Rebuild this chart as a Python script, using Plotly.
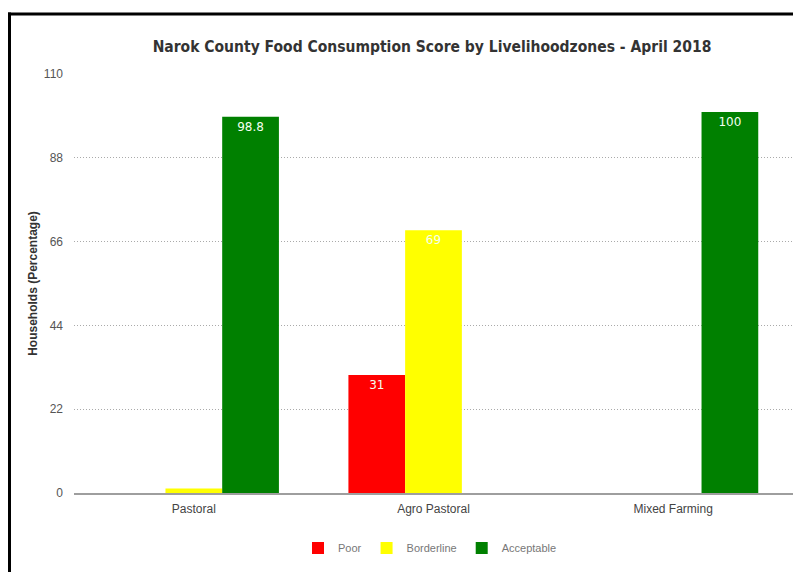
import plotly.graph_objects as go

categories = ["Pastoral", "Agro Pastoral", "Mixed Farming"]
poor = [0, 31, 0]
borderline = [1.2, 69, 0]
acceptable = [98.8, 0, 100]
series_names = ["Poor", "Borderline", "Acceptable"]
series_colors = ["#ff0000", "#ffff00", "#008000"]
tick_vals = [0, 22, 44, 66, 88, 110]

def labels(vals):
    return [("%g" % v) if v >= 5 else "" for v in vals]

fig = go.Figure()
for name, vals, col in zip(series_names, [poor, borderline, acceptable], series_colors):
    fig.add_trace(go.Bar(
        x=categories, y=vals, name=name, marker=dict(color=col, line=dict(width=0)),
        text=labels(vals), textposition="inside", insidetextanchor="end",
        textfont=dict(color="#f4fff0", size=12, family="DejaVu Sans"),
        textangle=0, cliponaxis=False,
    ))

OFF = 8  # page body margin offset
W, H = 801 - 2 * OFF, 580 - 2 * OFF  # keep the page free of scrollbars
PL, PR, PT, PB = 74, 793, 74, 493  # plot area in page pixels
L, T = PL - OFF, PT - OFF
pw, ph = PR - PL, PB - PT
R, B = W - L - pw, H - T - ph

def px_x(p):
    return (p - PL) / pw

def px_y(p):
    return (PB - p) / ph

border = dict(color="black", width=3)

fig.update_layout(
    width=W, height=H,
    margin=dict(l=L, r=R, t=T, b=B, autoexpand=False),
    paper_bgcolor="white", plot_bgcolor="white",
    barmode="group", bargap=0.29, bargroupgap=0,
    title=dict(text="Narok County Food Consumption Score by Livelihoodzones - April 2018",
               x=(432 - OFF) / W, xanchor="center", y=1 - (47 - OFF) / H, yanchor="middle",
               font=dict(family="DejaVu Sans Condensed, Liberation Sans, sans-serif", size=15.5, color="#333333", weight="bold")),
    font=dict(family="Liberation Sans, sans-serif", color="#444444", size=12),
    xaxis=dict(showgrid=False, showline=True, linecolor="#9e9e9e", linewidth=1.5,
               ticks="", tickfont=dict(size=12, color="#444444"), ticklabelstandoff=4),
    yaxis=dict(range=[0, 110], tickvals=tick_vals, showgrid=True, gridcolor="#aaaaaa",
               griddash="1px,2px", gridwidth=1, zeroline=False, showline=False,
               tickfont=dict(size=12, color="#555555"), ticklabelstandoff=10,
               title=dict(text="Households (Percentage)", standoff=3,
                          font=dict(family="Liberation Sans, Arial, sans-serif", size=12, color="#333333", weight="bold"))),
    legend=dict(orientation="h", x=px_x(430), xanchor="center", y=px_y(548), yanchor="middle",
                font=dict(size=11, color="#777777"), itemwidth=30, tracegroupgap=0),
    shapes=[
        dict(type="line", xref="paper", yref="paper",
             x0=px_x(OFF), x1=px_x(OFF + W), y0=px_y(14), y1=px_y(14), line=border, layer="above"),
        dict(type="line", xref="paper", yref="paper",
             x0=px_x(OFF + 1.5), x1=px_x(OFF + 1.5), y0=px_y(12.5), y1=px_y(OFF + H), line=border, layer="above"),
    ],
)

fig.write_html("out.html")
